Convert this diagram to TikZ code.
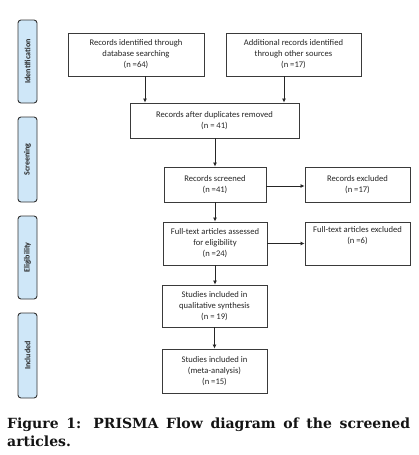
\documentclass[tikz,border=0pt]{standalone}
\usepackage{fontspec}
\setmainfont{Carlito}
\newfontfamily\capfont{DejaVu Serif}
\usetikzlibrary{arrows.meta,positioning,calc}
\definecolor{sidefill}{HTML}{CFE7F8}
\definecolor{boxline}{HTML}{3A3A3A}
\definecolor{captext}{HTML}{141414}
\tikzset{
  fbox/.style={draw=boxline,line width=0.9pt,fill=white,align=center,inner sep=0pt,
     font=\fontsize{8.6}{11}\selectfont,text=black!85},
  sidebox/.style={draw=black!80,line width=0.9pt,fill=sidefill,rounded corners=3pt,
     minimum width=19pt,inner sep=0pt},
  sidetext/.style={rotate=90,font=\fontsize{8}{9}\selectfont\bfseries,text=black!85},
  arr/.style={draw=black!85,line width=0.9pt,-{Latex[length=4pt,width=4pt]}},
}
\begin{document}
\begin{tikzpicture}[x=1pt,y=-1pt]
\useasboundingbox[fill=white] (0,0) rectangle (419,455);
% side labels
\node[sidebox,minimum height=83pt] (s1) at (27.5,61.5) {};
\node[sidetext] (t1) at (s1) {Identification};
\node[sidebox,minimum height=85pt] (s2) at (27.5,159.5) {};
\node[sidetext] (t2) at (s2) {Screening};
\node[sidebox,minimum height=83pt] (s3) at (27.5,257.5) {};
\node[sidetext] (t3) at (s3) {Eligibility};
\node[sidebox,minimum height=85pt] (s4) at (27.5,355.5) {};
\node[sidetext] (t4) at (s4) {Included};
% boxes
\node[fbox,minimum width=136pt,minimum height=43pt] (b1) at (136,54.5)
  {Records identified through\\ database searching\\ (n =64)};
\node[fbox,minimum width=135pt,minimum height=43pt] (b2) at (293.5,54.5)
  {Additional records identified\\ through other sources\\ (n =17)};
\node[fbox,minimum width=169pt,minimum height=35pt] (b3) at (214.5,120.5)
  {Records after duplicates removed\\ (n = 41)};
\node[fbox,minimum width=102pt,minimum height=35pt] (b4) at (215,184.5)
  {Records screened\\ (n =41)};
\node[fbox,minimum width=105pt,minimum height=35pt] (b5) at (357.5,184.5)
  {Records excluded\\ (n =17)};
\node[fbox,minimum width=104pt,minimum height=43pt] (b6) at (215,243.5)
  {Full-text articles assessed\\ for eligibility\\ (n =24)};
\node[fbox,minimum width=105pt,minimum height=43pt] (b7) at (357.5,243.5) {};
\node[fbox,draw=none,fill=none,anchor=north] (b7t) at ([yshift=-5pt]b7.north)
  {Full-text articles excluded\\ (n =6)};
\node[fbox,minimum width=105pt,minimum height=42pt] (b8) at (214.5,306)
  {Studies included in\\ qualitative synthesis\\ (n = 19)};
\node[fbox,minimum width=105pt,minimum height=44pt] (b9) at (214.5,371)
  {Studies included in\\ (meta-analysis)\\ (n =15)};
% arrows
\draw[arr] ([xshift=9pt]b1.south) -- ([xshift=9pt]b1.south |- b3.north);
\draw[arr] ([xshift=-9.5pt]b2.south) -- ([xshift=-9.5pt]b2.south |- b3.north);
\draw[arr] (b3.south -| b4.north) -- (b4.north);
\draw[arr] ([yshift=-1.5pt]b4.east) -- ([yshift=-1.5pt]b4.east -| b5.west);
\draw[arr] (b4.south) -- (b6.north);
\draw[arr] (b6.east) -- (b6.east -| b7.west);
\draw[arr] (b6.south) -- (b6.south |- b8.north);
\draw[arr] (b8.south) -- (b8.south |- b9.north);
% caption
\node[anchor=north west,inner sep=0pt,text width=403pt,align=justify,text=captext,
  font=\capfont\bfseries\fontsize{14}{18}\selectfont] (cap) at (7,418)
  {Figure 1: PRISMA Flow diagram of the screened\linebreak \mbox{articles.}};
\end{tikzpicture}
\end{document}
